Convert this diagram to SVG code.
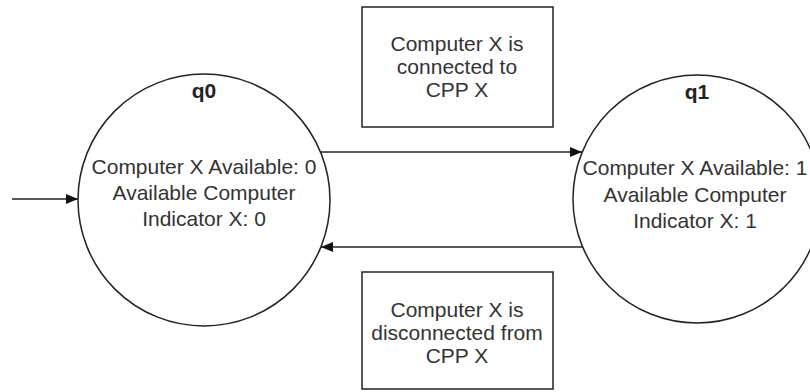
<svg xmlns="http://www.w3.org/2000/svg" width="810" height="392" viewBox="0 0 810 392">
<style>
text{font-family:"Liberation Sans",Arial,sans-serif;font-size:21px;fill:#333;text-anchor:middle}
.lbl{font-weight:bold;fill:#222}
.shape{fill:#fff;stroke:#222;stroke-width:1.5}
.edge{fill:none;stroke:#222;stroke-width:1.5;marker-end:url(#ah)}
</style>
<defs>
<marker id="ah" viewBox="0 0 12 10" refX="12" refY="5" markerWidth="12" markerHeight="10" markerUnits="userSpaceOnUse" orient="auto">
<path d="M0,0 L12,5 L0,10 z" fill="#111"/>
</marker>
</defs>
<rect width="810" height="392" fill="#fff"/>
<g id="q0">
<circle class="shape" cx="204" cy="200" r="126"/>
<text class="lbl" x="204" y="98">q0</text>
<text x="204" y="174">Computer X Available: 0</text>
<text x="204" y="200">Available Computer</text>
<text x="204" y="226">Indicator X: 0</text>
</g>
<g id="q1">
<circle class="shape" cx="697" cy="199" r="124"/>
<text class="lbl" x="697" y="99">q1</text>
<text x="695" y="175">Computer X Available: 1</text>
<text x="695" y="202">Available Computer</text>
<text x="695" y="228">Indicator X: 1</text>
</g>
<g id="label_connect">
<rect class="shape" x="362" y="7" width="191" height="120"/>
<text x="457" y="51">Computer X is</text>
<text x="457" y="74">connected to</text>
<text x="457" y="97">CPP X</text>
</g>
<g id="label_disconnect">
<rect class="shape" x="362" y="272" width="191" height="117"/>
<text x="457" y="317">Computer X is</text>
<text x="457" y="340">disconnected from</text>
<text x="457" y="363">CPP X</text>
</g>
<g id="connectors">
<line class="edge" x1="12" y1="199" x2="78" y2="199"/>
<line class="edge" x1="321" y1="152" x2="582" y2="152"/>
<line class="edge" x1="583" y1="247" x2="321" y2="247"/>
</g>
</svg>
